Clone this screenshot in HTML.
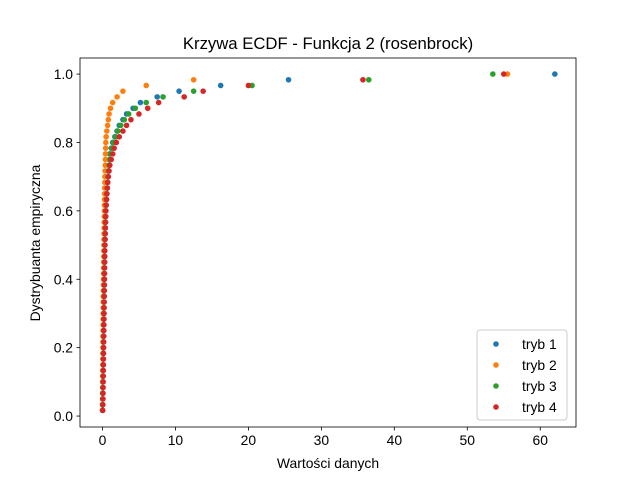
<!DOCTYPE html>
<html><head><meta charset="utf-8"><style>body{margin:0;background:#fff}svg{display:block;font-family:"Liberation Sans","DejaVu Sans",sans-serif}</style></head>
<body>
<svg id="chart" width="640" height="480">
<rect width="640" height="480" fill="#fff"/>
<text x="328" y="49" font-size="16.7" text-anchor="middle">Krzywa ECDF - Funkcja 2 (rosenbrock)</text>
<g id="grid"></g>
<g id="marks"></g>
<rect x="80" y="58" width="496" height="369" fill="none" stroke="#000" stroke-width="0.8"/>
<text x="328" y="468" font-size="13.9" text-anchor="middle">Wartości danych</text>
<text transform="translate(40,243) rotate(-90)" font-size="13.9" text-anchor="middle">Dystrybuanta empiryczna</text>
<g id="legend">
<rect x="477" y="330" width="90" height="90" rx="3" fill="#fff" fill-opacity="0.8" stroke="#ccc"/>
</g>
</svg>
<script>
const seriesNames = ["tryb 1","tryb 2","tryb 3","tryb 4"];
const colors = ["#1f77b4","#ff7f0e","#2ca02c","#d62728"];
const xTicks = [0,10,20,30,40,50,60];
const yTicks = [0.0,0.2,0.4,0.6,0.8,1.0];
const tryb1 = [0.01,0.02,0.03,0.04,0.05,0.06,0.07,0.08,0.09,0.10,0.11,0.12,0.13,0.14,0.15,0.16,0.17,0.18,0.19,0.20,0.21,0.22,0.23,0.24,0.25,0.26,0.27,0.28,0.30,0.32,0.34,0.36,0.38,0.40,0.43,0.46,0.50,0.55,0.60,0.65,0.70,0.75,0.82,0.90,0.95,1.0,1.2,1.4,1.7,2.0,2.3,2.8,3.3,4.2,5.2,7.5,10.5,16.2,25.5,62];
const tryb2 = [0.01,0.01,0.02,0.02,0.03,0.03,0.04,0.04,0.05,0.05,0.06,0.06,0.07,0.07,0.08,0.08,0.09,0.09,0.10,0.10,0.11,0.12,0.13,0.14,0.15,0.16,0.17,0.18,0.19,0.20,0.21,0.22,0.23,0.24,0.25,0.26,0.27,0.28,0.29,0.30,0.32,0.34,0.36,0.38,0.40,0.42,0.44,0.46,0.5,0.6,0.7,0.8,0.9,1.1,1.4,2.0,2.8,6.0,12.5,55.5];
const tryb3 = [0.02,0.03,0.04,0.05,0.06,0.07,0.08,0.09,0.10,0.11,0.12,0.13,0.14,0.15,0.16,0.17,0.18,0.19,0.20,0.21,0.22,0.23,0.24,0.25,0.26,0.27,0.28,0.29,0.30,0.32,0.34,0.36,0.38,0.40,0.43,0.46,0.50,0.55,0.60,0.65,0.70,0.76,0.82,0.90,1.0,1.1,1.3,1.5,1.8,2.1,2.5,3.0,3.6,4.5,6.0,8.3,12.5,20.5,36.5,53.5];
const tryb4 = [0.03,0.05,0.06,0.07,0.08,0.09,0.10,0.11,0.12,0.13,0.14,0.15,0.16,0.17,0.18,0.19,0.20,0.21,0.22,0.23,0.24,0.25,0.26,0.27,0.28,0.29,0.30,0.31,0.32,0.34,0.36,0.38,0.40,0.42,0.44,0.46,0.50,0.55,0.60,0.66,0.72,0.8,0.9,1.0,1.2,1.4,1.6,1.9,2.3,2.8,3.3,3.9,5.0,6.2,7.7,11.2,13.8,20,35.7,55];
const allSeries = [tryb1,tryb2,tryb3,tryb4];

const NS="http://www.w3.org/2000/svg";
const X0=80,X1=576,Y0=58,Y1=427;
const xMin=-3.08,xMax=64.9,yMin=-0.032,yMax=1.047;
const xs=v=>X0+(v-xMin)/(xMax-xMin)*(X1-X0);
const ys=v=>Y1-(v-yMin)/(yMax-yMin)*(Y1-Y0);
function mk(tag,attrs,parent){const e=document.createElementNS(NS,tag);for(const k in attrs)e.setAttribute(k,attrs[k]);parent.appendChild(e);return e;}
const grid=document.getElementById('grid');
xTicks.forEach(t=>{
  const l=mk('line',{x1:xs(t),x2:xs(t),y1:Y1,y2:Y1+3.5,stroke:'#000','stroke-width':0.8},grid);
  
  
  const tx=mk('text',{x:xs(t),y:Y1+18,'font-size':13.9,'text-anchor':'middle'},grid);
  tx.textContent=String(t);
  
  
});
yTicks.forEach(t=>{
  const l=mk('line',{x1:X0-3.5,x2:X0,y1:ys(t),y2:ys(t),stroke:'#000','stroke-width':0.8},grid);
  
  
  const tx=mk('text',{x:X0-7,y:ys(t)+5,'font-size':13.9,'text-anchor':'end'},grid);
  tx.textContent=t.toFixed(1);
  
  
});
const marks=document.getElementById('marks');
allSeries.forEach((arr,si)=>{
  const g=mk('g',{fill:colors[si]},marks);
  
  
  const n=arr.length;
  arr.forEach((v,i)=>{
    const c=mk('circle',{cx:xs(v),cy:ys((i+1)/n),r:2.8},g);
    
    
  });
});
const leg=document.getElementById('legend');
seriesNames.forEach((nm,i)=>{
  const y=344+i*21;
  const c=mk('circle',{cx:496,cy:y,r:2.8,fill:colors[i]},leg);
  
  
  const t=mk('text',{x:522,y:y+5,'font-size':13.9},leg);
  t.textContent=nm;
  
  
});
</script>
</body></html>
